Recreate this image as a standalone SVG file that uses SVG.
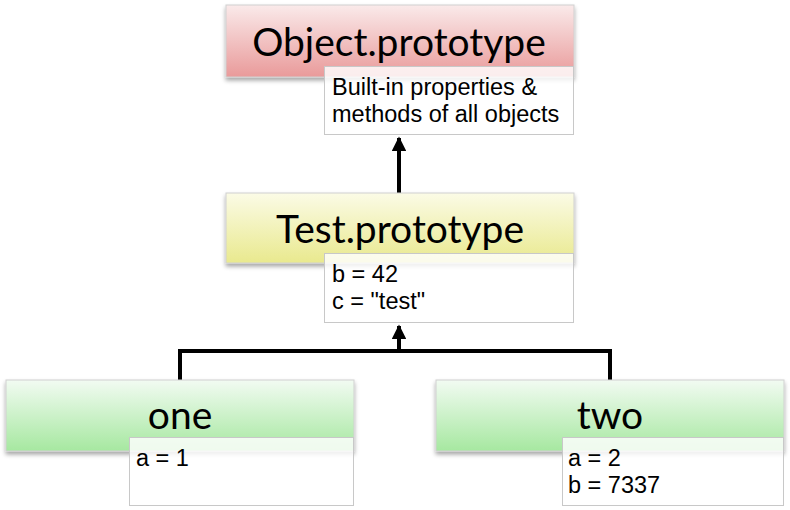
<svg xmlns="http://www.w3.org/2000/svg" width="790" height="510" viewBox="0 0 790 510">
<defs>
<linearGradient id="gRed" x1="0" y1="0" x2="0" y2="1"><stop offset="0" stop-color="#faeaea"/><stop offset="1" stop-color="#e99a9a"/></linearGradient>
<linearGradient id="gYel" x1="0" y1="0" x2="0" y2="1"><stop offset="0" stop-color="#fbfbe6"/><stop offset="1" stop-color="#e9e98e"/></linearGradient>
<linearGradient id="gGrn" x1="0" y1="0" x2="0" y2="1"><stop offset="0" stop-color="#f2fbf2"/><stop offset="1" stop-color="#a6e8a0"/></linearGradient>
<filter id="sh" x="-5%" y="-10%" width="110%" height="130%"><feDropShadow dx="0" dy="3" stdDeviation="2" flood-color="#000" flood-opacity="0.35"/></filter>
<marker id="arr" viewBox="0 0 10 10" refX="9" refY="5" markerWidth="4" markerHeight="3.6" orient="auto" markerUnits="strokeWidth"><path d="M0,0 L10,5 L0,10 z" fill="#000"/></marker>
</defs>
<style>
.hdr{stroke:#d0d0d0;stroke-width:1;filter:url(#sh)}
.note{fill:#ffffff;fill-opacity:0.82;stroke:#c8c8c8;stroke-width:1}
.title{font-family:"Lato","Open Sans",sans-serif;font-size:39px;fill:#000;text-anchor:middle}
.txt{font-family:"Liberation Sans",Arial,sans-serif;font-size:23.5px;fill:#000}
.conn{stroke:#000;stroke-width:4;fill:none}
</style>
<g id="connectors">
<path class="conn" d="M399,193 L399,138" marker-end="url(#arr)"/>
<path class="conn" d="M180,380 L180,351 L610,351 L610,380"/>
<path class="conn" d="M399,351 L399,326" marker-end="url(#arr)"/>
</g>
<g id="object-prototype">
<rect class="hdr" x="226" y="5" width="348" height="72" fill="url(#gRed)"/>
<text class="title" x="399" y="56">Object.prototype</text>
<rect class="note" x="324.500" y="66.500" width="249" height="68"/>
<text class="txt" x="332" y="95">Built-in properties &amp;</text>
<text class="txt" x="332" y="122">methods of all objects</text>
</g>
<g id="test-prototype">
<rect class="hdr" x="226" y="193" width="348" height="70" fill="url(#gYel)"/>
<text class="title" x="400" y="243">Test.prototype</text>
<rect class="note" x="324.500" y="253.500" width="249" height="69"/>
<text class="txt" x="332" y="282">b = 42</text>
<text class="txt" x="332" y="309">c = "test"</text>
</g>
<g id="one">
<rect class="hdr" x="6" y="380" width="348" height="71" fill="url(#gGrn)"/>
<text class="title" x="180" y="429">one</text>
<rect class="note" x="129.500" y="437.500" width="224" height="68"/>
<text class="txt" x="136" y="466">a = 1</text>
</g>
<g id="two">
<rect class="hdr" x="436" y="380" width="348" height="71" fill="url(#gGrn)"/>
<text class="title" x="610" y="429">two</text>
<rect class="note" x="562.500" y="437.500" width="221" height="68"/>
<text class="txt" x="568" y="466">a = 2</text>
<text class="txt" x="568" y="493">b = 7337</text>
</g>
</svg>
